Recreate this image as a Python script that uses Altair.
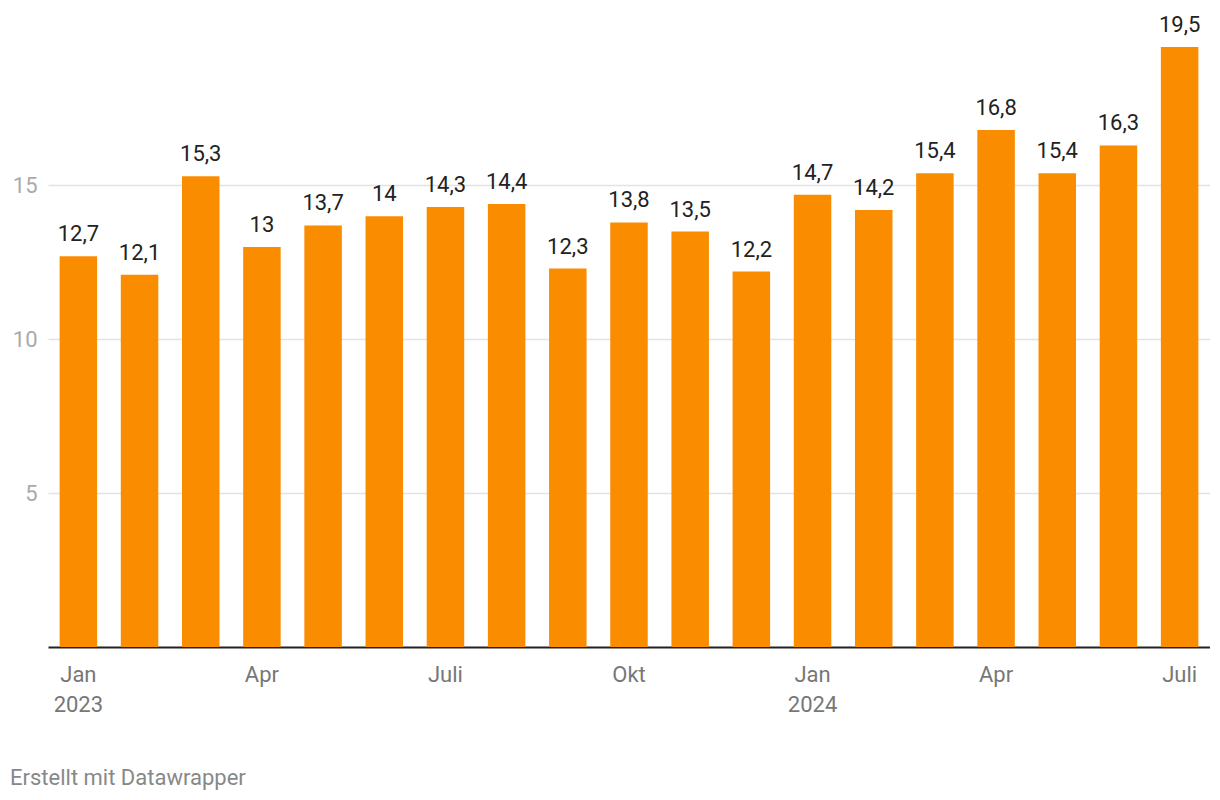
import altair as alt
import pandas as pd

months = ["2023-01", "2023-02", "2023-03", "2023-04", "2023-05", "2023-06", "2023-07",
          "2023-08", "2023-09", "2023-10", "2023-11", "2023-12", "2024-01", "2024-02",
          "2024-03", "2024-04", "2024-05", "2024-06", "2024-07"]
values = [12.7, 12.1, 15.3, 13.0, 13.7, 14.0, 14.3, 14.4, 12.3, 13.8, 13.5, 12.2,
          14.7, 14.2, 15.4, 16.8, 15.4, 16.3, 19.5]
tick_labels = {"2023-01": ["Jan", "2023"], "2023-04": ["Apr"], "2023-07": ["Juli"],
               "2023-10": ["Okt"], "2024-01": ["Jan", "2024"], "2024-04": ["Apr"],
               "2024-07": ["Juli"]}


def fmt(v):
    s = ("%.1f" % v).rstrip("0").rstrip(".")
    return s.replace(".", ",")


df = pd.DataFrame({"month": months, "value": values,
                   "label": [fmt(v) for v in values]})

expr_parts = []
for k, lines in tick_labels.items():
    arr = "[" + ",".join("'%s'" % l for l in lines) + "]"
    expr_parts.append("datum.value == '%s' ? %s" % (k, arr))
label_expr = " : ".join(expr_parts) + " : ''"

FONT = "Roboto"

x = alt.X("month:O", sort=months, title=None,
          scale=alt.Scale(paddingInner=0.387, paddingOuter=0.19),
          axis=alt.Axis(labelExpr=label_expr, labelAngle=0, ticks=False,
                        domainColor="#222222", domainWidth=2, labelColor="#777777",
                        labelFontSize=22, labelFont=FONT, labelPadding=17,
                        labelLineHeight=30, labelBaseline="top"))
y = alt.Y("value:Q", title=None,
          scale=alt.Scale(domain=[0, 19.5], nice=False),
          axis=alt.Axis(values=[5, 10, 15], domain=False, ticks=False, tickSize=0,
                        gridColor="#e3e3e3", gridWidth=1.5, labelColor="#aaaaaa",
                        labelFontSize=22, labelFont=FONT, labelPadding=11))

base = alt.Chart(df)
bars = base.mark_bar(color="#fa8c00").encode(x=x, y=y)
texts = base.mark_text(font=FONT, fontSize=22, color="#222222", baseline="alphabetic",
                       dy=-15).encode(x=x, y=y, text="label:N")

chart = (bars + texts).properties(
    width=1162, height=600,
    autosize=alt.AutoSizeParams(type="none"),
    padding={"left": 40, "top": 39, "right": 0, "bottom": 143},
    title=alt.TitleParams("Erstellt mit Datawrapper", orient="bottom", anchor="start",
                          font=FONT, fontSize=22, fontWeight="normal", color="#888888",
                          dx=-38, offset=53, frame="group"),
).configure_view(stroke=None).configure_axis(grid=True)

chart = chart.configure_axisX(grid=False)

chart.save("out.html", embed_options={"renderer": "svg", "actions": False})
